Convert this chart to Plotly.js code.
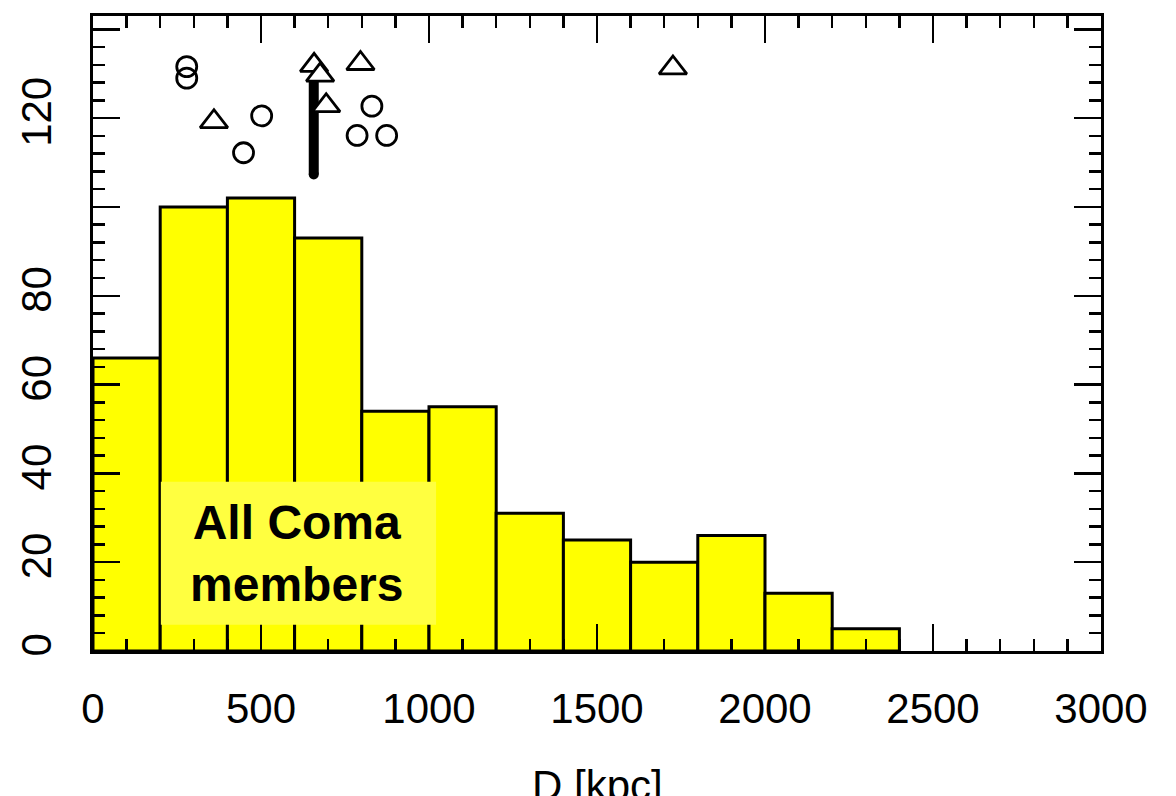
<!DOCTYPE html>
<html>
<head>
<meta charset="utf-8">
<script src="https://cdn.plot.ly/plotly-3.0.1.min.js"></script>
<style>
  html, body { margin: 0; padding: 0; background: #ffffff; }
  #chart { width: 1176px; height: 796px; }
</style>
</head>
<body>
<div id="chart"></div>
<script>
// Histogram of projected cluster-centric distance for all Coma members
const binLeft = [0, 200, 400, 600, 800, 1000, 1200, 1400, 1600, 1800, 2000, 2200];
const binWidth = 200;
const counts = [66, 100, 102, 93, 54, 55, 31, 25, 20, 26, 13, 5];

// Individual objects plotted above the histogram
const circleX = [279, 279, 502, 448, 830, 786, 874];
const circleY = [131.6, 129.0, 120.5, 112.2, 122.7, 116.1, 116.1];
const triangleX = [360, 658, 676, 694, 796, 1726];
const triangleY = [119.2, 131.9, 129.7, 122.8, 132.3, 131.3];

// Thick vertical marker
const stickX = [657, 657];
const stickY = [107.3, 128.6];

// Axis ticks
const yTickVals = [0, 20, 40, 60, 80, 100, 120, 140];
const yTickText = ['0', '20', '40', '60', '80', '', '120', ''];
const xTickVals = [0, 500, 1000, 1500, 2000, 2500, 3000];
const xTickText = ['0', '500', '1000', '1500', '2000', '2500', '3000'];

const xTitle = 'D [kpc]';
const labelText = 'All Coma<br>members';

const font = 'Liberation Sans, Arial, Helvetica, sans-serif';

const barTrace = {
  type: 'bar',
  x: binLeft.map(v => v + binWidth / 2),
  y: counts,
  width: binWidth,
  marker: { color: '#ffff00', line: { color: '#000000', width: 3 } },
  hoverinfo: 'x+y'
};

const stickTrace = {
  type: 'scatter',
  mode: 'lines',
  x: stickX,
  y: stickY,
  line: { color: '#000000', width: 10 },
  hoverinfo: 'skip'
};

const stickCap = {
  type: 'scatter',
  mode: 'markers',
  x: [stickX[0]],
  y: [stickY[0]],
  marker: { symbol: 'circle', size: 10, color: '#000000', line: { width: 0 } },
  hoverinfo: 'skip'
};

const circleTrace = {
  type: 'scatter',
  mode: 'markers',
  x: circleX,
  y: circleY,
  marker: { symbol: 'circle-open', size: 20, color: '#000000', line: { width: 2.8, color: '#000000' } }
};

const triangleTrace = {
  type: 'scatter',
  mode: 'markers',
  x: triangleX,
  y: triangleY,
  marker: { symbol: 'triangle-up', size: 24, color: '#ffffff', line: { width: 2.8, color: '#000000' } }
};

const axisCommon = {
  showline: true,
  linecolor: '#000000',
  linewidth: 3,
  mirror: 'allticks',
  ticks: 'inside',
  ticklen: 27,
  tickwidth: 2.5,
  tickcolor: '#000000',
  showgrid: false,
  zeroline: false,
  tickfont: { family: font, size: 42, color: '#000000' },
  fixedrange: true
};

const layout = {
  width: 1176,
  height: 796,
  margin: { l: 93, r: 75, t: 16, b: 145 },
  paper_bgcolor: '#ffffff',
  plot_bgcolor: '#ffffff',
  showlegend: false,
  bargap: 0,
  xaxis: Object.assign({}, axisCommon, {
    range: [0, 3000],
    tickmode: 'array',
    tickvals: xTickVals,
    ticktext: xTickText,
    ticklabelstandoff: 19,
    minor: { dtick: 100, ticks: 'inside', ticklen: 12, tickwidth: 2.5, tickcolor: '#000000', showgrid: false }
  }),
  yaxis: Object.assign({}, axisCommon, {
    range: [0, 143],
    tickmode: 'array',
    tickvals: yTickVals,
    ticktext: yTickText,
    tickangle: -90,
    ticklabelstandoff: 22,
    minor: { dtick: 4, ticks: 'inside', ticklen: 12, tickwidth: 2.5, tickcolor: '#000000', showgrid: false }
  }),
  shapes: [
    {
      type: 'rect', xref: 'x', yref: 'y', layer: 'above',
      x0: 202, x1: 1021, y0: 5.9, y1: 38.1,
      fillcolor: '#ffff40', line: { width: 0 }
    }
  ],
  annotations: [
    {
      xref: 'x', yref: 'y', x: 607, y: 22.0,
      text: '<b>' + labelText + '</b>',
      showarrow: false,
      font: { family: font, size: 48, color: '#000000' },
      align: 'center'
    },
    {
      // x-axis title, sitting low in the bottom margin
      xref: 'paper', yref: 'paper', x: 0.5, y: -0.1717,
      xanchor: 'center', yanchor: 'top',
      text: xTitle,
      showarrow: false,
      font: { family: font, size: 42, color: '#000000' }
    }
  ]
};

Plotly.newPlot('chart', [barTrace, stickTrace, stickCap, circleTrace, triangleTrace], layout,
  { displayModeBar: false, staticPlot: true });
</script>
</body>
</html>
